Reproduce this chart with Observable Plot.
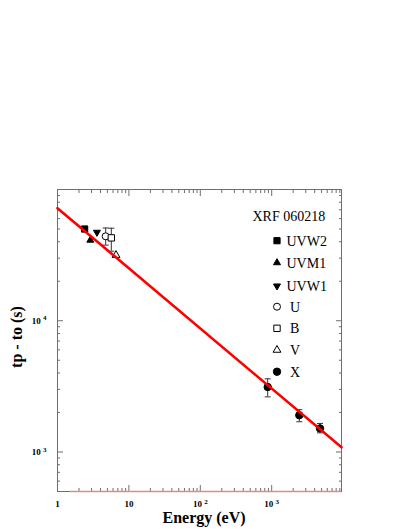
<!DOCTYPE html>
<html><head><meta charset="utf-8">
<script src="https://cdn.jsdelivr.net/npm/d3@7"></script>
<script src="https://cdn.jsdelivr.net/npm/@observablehq/plot@0.6"></script>
<style>body{margin:0;background:#fff} svg{display:block}</style>
</head><body><div id="chart"></div>
<script>
// ---- data ----
const uvBands   = ["UVW2", "UVM1", "UVW1", "U", "B", "V"];
const uvEnergy  = [2.40, 2.88, 3.57, 4.73, 5.67, 6.6];
const uvTime    = [50000, 41100, 47200, 44000, 42800, 31600];
const uvErrLo   = [null, null, null, 37700, 33900, null];
const uvErrHi   = [null, null, null, 50900, 50700, null];
const xEnergy   = [879, 2436, 4750];
const xTime     = [3130, 1905, 1513];
const xErrLo    = [2630, 1700, 1400];
const xErrHi    = [3610, 2100, 1650];
const fitEnergy = [1, 9500];
const fitTime   = [72100, 1085];
const legendTitle  = "XRF 060218";
const legendLabels = ["UVW2", "UVM1", "UVW1", "U", "B", "V", "X"];
const xMajor = [1, 10, 100, 1000];
const xTickLabels = ["1", "10", "10^2", "10^3"];
const yMajor = [1000, 10000];
const yTickLabels = ["10^3", "10^4"];
const xLabel = "Energy (eV)";
const yLabel = "tp - to (s)";

// ---- derived tables ----
const uvData = uvBands.map((b, i) => ({band: b, E: uvEnergy[i], t: uvTime[i], lo: uvErrLo[i], hi: uvErrHi[i]}));
const xData = xEnergy.map((E, i) => ({band: "X", E, t: xTime[i], lo: xErrLo[i], hi: xErrHi[i]}));
const errData = uvData.filter(d => d.lo != null).concat(xData);
const fitData = fitEnergy.map((E, i) => ({E, t: fitTime[i]}));
const xMinor = [], yMinor = [];
for (const p of [1, 10, 100, 1000]) for (let k = 2; k <= 9; k++) if (k * p < 9500) xMinor.push(k * p);
for (const p of [100, 1000, 10000]) for (let k = 2; k <= 9; k++) if (k * p > 500) yMinor.push(k * p);

const styles = {
  UVW2: {symbol: "square", fill: "black", rotate: 0, r: 3.5},
  UVM1: {symbol: "triangle", fill: "black", rotate: 0, r: 2.6},
  UVW1: {symbol: "triangle", fill: "black", rotate: 180, r: 2.6},
  U:    {symbol: "circle", fill: "white", rotate: 0, r: 3.5},
  B:    {symbol: "square", fill: "white", rotate: 0, r: 3.6},
  V:    {symbol: "triangle", fill: "white", rotate: 0, r: 2.9},
  X:    {symbol: "circle", fill: "black", rotate: 0, r: 3.7}
};
const capSymbol = {draw(ctx, size) { const w = Math.sqrt(size / Math.PI); ctx.moveTo(-w, 0); ctx.lineTo(w, 0); }};

const axisColor = "#6e6e6e";
const tickFont = {fontWeight: "bold", fontSize: 9, fill: "black"};

const marks = [
  Plot.frame({stroke: axisColor}),
  // minor / major inward ticks
  Plot.axisX({anchor: "bottom", ticks: xMinor, tickSize: -3, tickFormat: () => "", stroke: axisColor, label: null}),
  Plot.axisX({anchor: "top", ticks: xMinor, tickSize: -3, tickFormat: () => "", stroke: axisColor, label: null}),
  Plot.axisX({anchor: "bottom", ticks: xMajor, tickSize: -6, tickFormat: () => "", stroke: axisColor, label: null}),
  Plot.axisX({anchor: "top", ticks: xMajor, tickSize: -6, tickFormat: () => "", stroke: axisColor, label: null}),
  Plot.axisY({anchor: "left", ticks: yMinor, tickSize: -3, tickFormat: () => "", stroke: axisColor, label: null}),
  Plot.axisY({anchor: "right", ticks: yMinor, tickSize: -3, tickFormat: () => "", stroke: axisColor, label: null}),
  Plot.axisY({anchor: "left", ticks: yMajor, tickSize: -6, tickFormat: () => "", stroke: axisColor, label: null}),
  Plot.axisY({anchor: "right", ticks: yMajor, tickSize: -6, tickFormat: () => "", stroke: axisColor, label: null}),
  // tick labels
  Plot.axisX({anchor: "bottom", ticks: xMajor, tickSize: 0, tickPadding: 9, tickFormat: d => xTickLabels[xMajor.indexOf(d)], label: null, ...tickFont}),
  Plot.axisY({anchor: "left", ticks: yMajor, tickSize: 0, tickPadding: 11, tickFormat: d => yTickLabels[yMajor.indexOf(d)], label: null, ...tickFont}),
  // bottom pink baseline
  Plot.ruleY([500], {x1: 1.5, x2: 9500, stroke: "#e08a8a", strokeWidth: 1.5}),
  // error bars
  Plot.ruleX(errData, {x: "E", y1: "lo", y2: "hi", stroke: "#333", strokeWidth: 1}),
  Plot.dot(errData, {x: "E", y: "lo", symbol: capSymbol, r: 3, stroke: "#333", strokeWidth: 1}),
  Plot.dot(errData, {x: "E", y: "hi", symbol: capSymbol, r: 3, stroke: "#333", strokeWidth: 1}),
  // points
  ...Object.keys(styles).map(b => {
    const s = styles[b];
    const data = uvData.concat(xData).filter(d => d.band === b);
    return Plot.dot(data, {x: "E", y: "t", symbol: s.symbol, fill: s.fill, stroke: "black", strokeWidth: 1, r: s.r, rotate: s.rotate});
  }),
  // power-law fit
  Plot.line(fitData, {x: "E", y: "t", stroke: "#ff0000", strokeWidth: 2.6})
];

const plot = Plot.plot({
  width: 409, height: 529,
  marginLeft: 57, marginRight: 68, marginTop: 189, marginBottom: 38,
  style: {fontFamily: "'Liberation Serif', 'Times New Roman', serif", background: "white"},
  x: {type: "log", domain: [1, 9500], label: null},
  y: {type: "log", domain: [500, 100000], label: null},
  marks
});

// superscripts in tick labels
d3.select(plot).selectAll("text").each(function() {
  const t = this.textContent;
  if (t.includes("^")) {
    const [base, exp] = t.split("^");
    const sel = d3.select(this);
    sel.text(null);
    sel.append("tspan").text(base + " ");
    sel.append("tspan").attr("dy", "-0.45em").attr("font-size", "7").text(exp);
  }
});

// legend and axis titles
const svg = d3.select(plot);
const ff = "'Liberation Serif', 'Times New Roman', serif";
svg.append("text").attr("x", 252.5).attr("y", 220.5).attr("text-anchor", "start")
  .attr("font-family", ff).attr("font-size", 14).text(legendTitle);
const legY = [240.7, 262.7, 286, 306.7, 328.3, 350, 371.7];
const legTextX = [286.5, 286.5, 286.5, 290, 290, 290, 290];
legendLabels.forEach((lab, i) => {
  const s = styles[lab];
  const sym = d3.symbol().type({circle: d3.symbolCircle, square: d3.symbolSquare, triangle: d3.symbolTriangle}[s.symbol]).size(Math.PI * s.r * s.r);
  svg.append("path").attr("d", sym()).attr("transform", `translate(277,${legY[i]}) rotate(${s.rotate})`)
    .attr("fill", s.fill).attr("stroke", "black").attr("stroke-width", 1);
  svg.append("text").attr("x", legTextX[i]).attr("y", legY[i]).attr("dy", "0.35em").attr("text-anchor", "start")
    .attr("font-family", ff).attr("font-size", 14).text(lab);
});
svg.append("text").attr("x", 204).attr("y", 523).attr("text-anchor", "middle")
  .attr("font-family", ff).attr("font-weight", "bold").attr("font-size", 16).text(xLabel);
svg.append("text").attr("transform", "translate(22,337) rotate(-90)").attr("text-anchor", "middle")
  .attr("font-family", ff).attr("font-weight", "bold").attr("font-size", 16).text(yLabel);

document.getElementById("chart").appendChild(plot);
</script>
</body></html>
